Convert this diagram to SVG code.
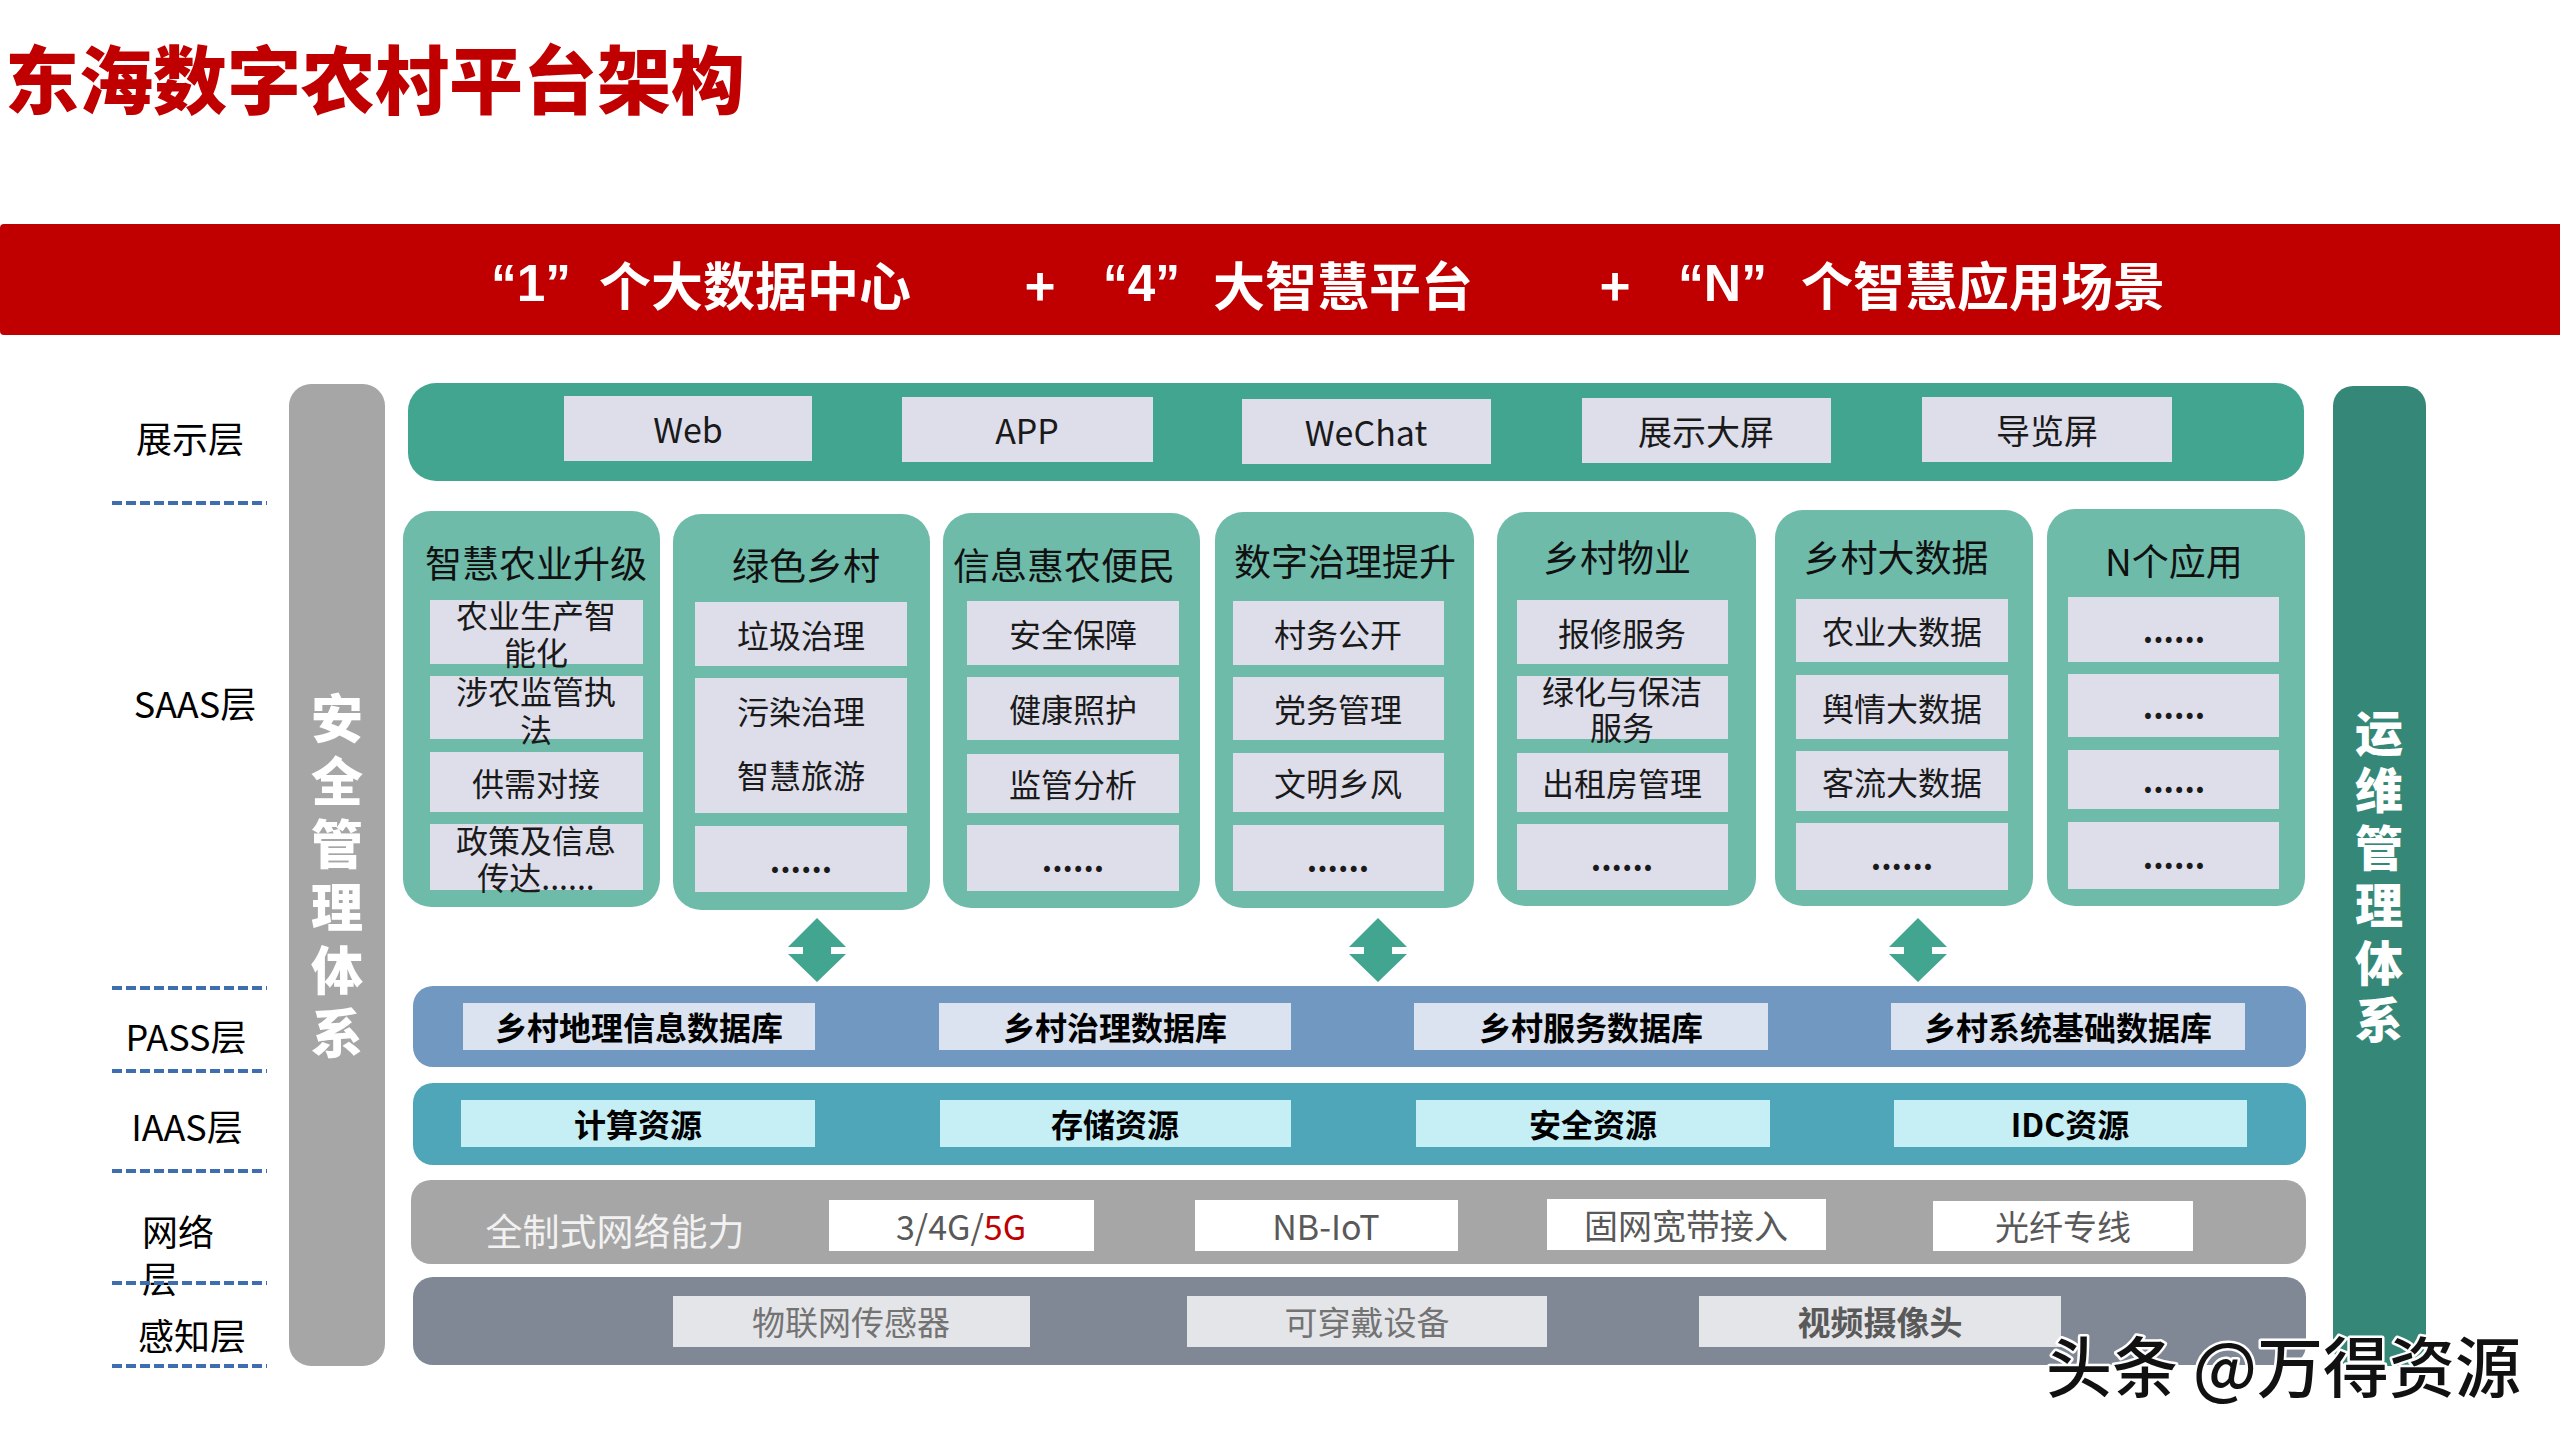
<svg xmlns="http://www.w3.org/2000/svg" width="2560" height="1440" viewBox="0 0 2560 1440">
<defs>
<style>
text { font-family: "Noto Sans CJK SC", "Noto Sans", sans-serif; dominant-baseline: central; }
.c { text-anchor: middle; }
.lbl { font-size: 36px; fill: #000; }
.dash { stroke: #3E6EAF; stroke-width: 4; stroke-dasharray: 10 4; fill: none; }
.vt { font-size: 52px; font-weight: 900; fill: #fff; text-anchor: middle; }
.lav { fill: #DEDEEB; }
.col { fill: #6FBBAA; }
.ttl { font-size: 37px; fill: #111; text-anchor: middle; }
.it { font-size: 32px; fill: #1a1a1a; text-anchor: middle; }
.dots { font-size: 32px; font-weight: bold; fill: #1a1a1a; text-anchor: middle; }
.top { font-size: 34px; fill: #1a1a1a; text-anchor: middle; }
.db { font-size: 32px; font-weight: bold; fill: #000; text-anchor: middle; }
.nw { font-size: 34px; fill: #595959; text-anchor: middle; }
.sn { font-size: 33px; fill: #737373; text-anchor: middle; }
.arr { fill: #41A58F; }
.ban { font-size: 52px; font-weight: bold; fill: #fff; }
.q { font-family: "Liberation Sans", Arial, sans-serif; font-size: 52px; font-weight: bold; fill: #fff; }
</style>
</defs>
<rect width="2560" height="1440" fill="#fff"/>

<g id="title">
<text x="5" y="75" style="font-size:74px;font-weight:900;fill:#C00000">东海数字农村平台架构</text>
</g>

<g id="banner">
<rect x="0" y="224" width="2570" height="111" rx="4" fill="#C00000"/>
<text class="q" x="491" y="283" textLength="80" lengthAdjust="spacingAndGlyphs">“1”</text>
<text class="ban" x="599" y="283">个大数据中心</text>
<text class="ban c" x="1040" y="283">+</text>
<text class="q" x="1103" y="283" textLength="77" lengthAdjust="spacingAndGlyphs">“4”</text>
<text class="ban" x="1213" y="283">大智慧平台</text>
<text class="ban c" x="1615" y="283">+</text>
<text class="q" x="1678" y="283" textLength="89" lengthAdjust="spacingAndGlyphs">“N”</text>
<text class="ban" x="1801" y="283">个智慧应用场景</text>
</g>

<g id="layer-labels">
<text class="lbl c" x="190" y="437">展示层</text>
<text class="lbl c" x="195" y="702">SAAS层</text>
<text class="lbl c" x="186" y="1035">PASS层</text>
<text class="lbl c" x="187" y="1125">IAAS层</text>
<text class="lbl" x="142" y="1230">网络<tspan x="142" dy="47">层</tspan></text>
<text class="lbl c" x="192" y="1334">感知层</text>
<line class="dash" x1="112" y1="503" x2="267" y2="503"/>
<line class="dash" x1="112" y1="988" x2="267" y2="988"/>
<line class="dash" x1="112" y1="1071" x2="267" y2="1071"/>
<line class="dash" x1="112" y1="1171" x2="267" y2="1171"/>
<line class="dash" x1="112" y1="1283" x2="267" y2="1283"/>
<line class="dash" x1="112" y1="1366" x2="267" y2="1366"/>
</g>

<g id="security-bar">
<rect x="289" y="384" width="96" height="982" rx="22" fill="#A6A6A6"/>
<text class="vt" x="337" y="715">安</text>
<text class="vt" x="337" y="778">全</text>
<text class="vt" x="337" y="841">管</text>
<text class="vt" x="337" y="904">理</text>
<text class="vt" x="337" y="967">体</text>
<text class="vt" x="337" y="1030">系</text>
</g>

<g id="ops-bar">
<rect x="2333" y="386" width="93" height="980" rx="20" fill="#358878"/>
<text class="vt" style="font-size:48px" x="2379" y="730">运</text>
<text class="vt" style="font-size:48px" x="2379" y="787">维</text>
<text class="vt" style="font-size:48px" x="2379" y="845">管</text>
<text class="vt" style="font-size:48px" x="2379" y="902">理</text>
<text class="vt" style="font-size:48px" x="2379" y="960">体</text>
<text class="vt" style="font-size:48px" x="2379" y="1017">系</text>
</g>

<g id="display-layer">
<rect x="408" y="383" width="1896" height="98" rx="28" fill="#41A58F"/>
<rect class="lav" x="564" y="396" width="248" height="65"/>
<text class="top" x="688" y="428">Web</text>
<rect class="lav" x="902" y="397" width="251" height="65"/>
<text class="top" x="1027" y="429">APP</text>
<rect class="lav" x="1242" y="399" width="249" height="65"/>
<text class="top" x="1366" y="431">WeChat</text>
<rect class="lav" x="1582" y="398" width="249" height="65"/>
<text class="top" x="1706" y="430">展示大屏</text>
<rect class="lav" x="1922" y="397" width="250" height="65"/>
<text class="top" x="2047" y="429">导览屏</text>
</g>

<g id="col-smart-agri">
<rect class="col" x="403" y="511" width="257" height="396" rx="28"/>
<text class="ttl" x="536" y="562">智慧农业升级</text>
<rect class="lav" x="430" y="600" width="213" height="64"/>
<text class="it" x="536" y="614">农业生产智<tspan x="536" dy="37">能化</tspan></text>
<rect class="lav" x="430" y="676" width="213" height="63"/>
<text class="it" x="536" y="690">涉农监管执<tspan x="536" dy="38">法</tspan></text>
<rect class="lav" x="430" y="752" width="213" height="60"/>
<text class="it" x="536" y="782">供需对接</text>
<rect class="lav" x="430" y="824" width="213" height="66"/>
<text class="it" x="536" y="839">政策及信息<tspan x="536" dy="37">传达......</tspan></text>
</g>

<g id="col-green-village">
<rect class="col" x="673" y="514" width="257" height="396" rx="28"/>
<text class="ttl" x="806" y="564">绿色乡村</text>
<rect class="lav" x="695" y="602" width="212" height="64"/>
<text class="it" x="801" y="634">垃圾治理</text>
<rect class="lav" x="695" y="678" width="212" height="135"/>
<text class="it" x="801" y="710">污染治理</text>
<text class="it" x="801" y="774">智慧旅游</text>
<rect class="lav" x="695" y="826" width="212" height="66"/>
<text class="dots" x="801" y="859">......</text>
</g>

<g id="col-info">
<rect class="col" x="943" y="513" width="257" height="395" rx="28"/>
<text class="ttl" x="1064" y="564">信息惠农便民</text>
<rect class="lav" x="967" y="601" width="212" height="64"/>
<text class="it" x="1073" y="633">安全保障</text>
<rect class="lav" x="967" y="677" width="212" height="63"/>
<text class="it" x="1073" y="708">健康照护</text>
<rect class="lav" x="967" y="754" width="212" height="59"/>
<text class="it" x="1073" y="783">监管分析</text>
<rect class="lav" x="967" y="825" width="212" height="66"/>
<text class="dots" x="1073" y="858">......</text>
</g>

<g id="col-governance">
<rect class="col" x="1215" y="512" width="259" height="396" rx="28"/>
<text class="ttl" x="1345" y="560">数字治理提升</text>
<rect class="lav" x="1233" y="601" width="211" height="64"/>
<text class="it" x="1338" y="633">村务公开</text>
<rect class="lav" x="1233" y="677" width="211" height="63"/>
<text class="it" x="1338" y="708">党务管理</text>
<rect class="lav" x="1233" y="753" width="211" height="59"/>
<text class="it" x="1338" y="782">文明乡风</text>
<rect class="lav" x="1233" y="825" width="211" height="66"/>
<text class="dots" x="1338" y="858">......</text>
</g>

<g id="col-property">
<rect class="col" x="1497" y="512" width="259" height="394" rx="28"/>
<text class="ttl" x="1617" y="556">乡村物业</text>
<rect class="lav" x="1517" y="600" width="211" height="64"/>
<text class="it" x="1622" y="632">报修服务</text>
<rect class="lav" x="1517" y="676" width="211" height="63"/>
<text class="it" x="1622" y="690">绿化与保洁<tspan x="1622" dy="36">服务</tspan></text>
<rect class="lav" x="1517" y="753" width="211" height="59"/>
<text class="it" x="1622" y="782">出租房管理</text>
<rect class="lav" x="1517" y="824" width="211" height="66"/>
<text class="dots" x="1622" y="857">......</text>
</g>

<g id="col-bigdata">
<rect class="col" x="1775" y="510" width="258" height="396" rx="28"/>
<text class="ttl" x="1896" y="556">乡村大数据</text>
<rect class="lav" x="1796" y="599" width="212" height="63"/>
<text class="it" x="1902" y="630">农业大数据</text>
<rect class="lav" x="1796" y="675" width="212" height="64"/>
<text class="it" x="1902" y="707">舆情大数据</text>
<rect class="lav" x="1796" y="751" width="212" height="60"/>
<text class="it" x="1902" y="781">客流大数据</text>
<rect class="lav" x="1796" y="823" width="212" height="67"/>
<text class="dots" x="1902" y="856">......</text>
</g>

<g id="col-n-apps">
<rect class="col" x="2047" y="509" width="258" height="397" rx="28"/>
<text class="ttl" x="2174" y="560">N个应用</text>
<rect class="lav" x="2068" y="597" width="211" height="65"/>
<text class="dots" x="2174" y="629">......</text>
<rect class="lav" x="2068" y="674" width="211" height="63"/>
<text class="dots" x="2174" y="705">......</text>
<rect class="lav" x="2068" y="750" width="211" height="59"/>
<text class="dots" x="2174" y="779">......</text>
<rect class="lav" x="2068" y="822" width="211" height="67"/>
<text class="dots" x="2174" y="855">......</text>
</g>

<g id="connectors">
<path class="arr" d="M817,918 L846,947 L831,947 L831,954 L846,954 L817,982 L788,954 L803,954 L803,947 L788,947 Z"/>
<path class="arr" d="M1378,918 L1407,947 L1392,947 L1392,954 L1407,954 L1378,982 L1349,954 L1364,954 L1364,947 L1349,947 Z"/>
<path class="arr" d="M1918,918 L1947,947 L1932,947 L1932,954 L1947,954 L1918,982 L1889,954 L1904,954 L1904,947 L1889,947 Z"/>
</g>

<g id="pass-layer">
<rect x="413" y="986" width="1893" height="81" rx="20" fill="#7098C0"/>
<rect x="463" y="1003" width="352" height="47" fill="#DAE3EF"/>
<text class="db" x="639" y="1026">乡村地理信息数据库</text>
<rect x="939" y="1003" width="352" height="47" fill="#DAE3EF"/>
<text class="db" x="1115" y="1026">乡村治理数据库</text>
<rect x="1414" y="1003" width="354" height="47" fill="#DAE3EF"/>
<text class="db" x="1591" y="1026">乡村服务数据库</text>
<rect x="1891" y="1003" width="354" height="47" fill="#DAE3EF"/>
<text class="db" x="2068" y="1026">乡村系统基础数据库</text>
</g>

<g id="iaas-layer">
<rect x="413" y="1083" width="1893" height="82" rx="20" fill="#4FA6B8"/>
<rect x="461" y="1100" width="354" height="47" fill="#C5EEF5"/>
<text class="db" x="638" y="1123">计算资源</text>
<rect x="940" y="1100" width="351" height="47" fill="#C5EEF5"/>
<text class="db" x="1115" y="1123">存储资源</text>
<rect x="1416" y="1100" width="354" height="47" fill="#C5EEF5"/>
<text class="db" x="1593" y="1123">安全资源</text>
<rect x="1894" y="1100" width="353" height="47" fill="#C5EEF5"/>
<text class="db" x="2070" y="1123">IDC资源</text>
</g>

<g id="network-layer">
<rect x="411" y="1180" width="1895" height="84" rx="20" fill="#A6A6A6"/>
<text x="615" y="1230" class="c" style="font-size:37px;fill:#F2F2F2">全制式网络能力</text>
<rect x="829" y="1200" width="265" height="51" fill="#fff"/>
<text class="nw" x="961" y="1225">3/4G/<tspan fill="#C00000">5G</tspan></text>
<rect x="1195" y="1200" width="263" height="51" fill="#fff"/>
<text class="nw" x="1326" y="1225">NB-IoT</text>
<rect x="1547" y="1199" width="279" height="51" fill="#fff"/>
<text class="nw" x="1686" y="1224">固网宽带接入</text>
<rect x="1933" y="1201" width="260" height="50" fill="#fff"/>
<text class="nw" x="2063" y="1225">光纤专线</text>
</g>

<g id="sensing-layer">
<rect x="413" y="1277" width="1893" height="88" rx="20" fill="#808896"/>
<rect x="673" y="1296" width="357" height="51" fill="#E4E5E9"/>
<text class="sn" x="851" y="1321">物联网传感器</text>
<rect x="1187" y="1296" width="360" height="51" fill="#E4E5E9"/>
<text class="sn" x="1367" y="1321">可穿戴设备</text>
<rect x="1699" y="1296" width="362" height="51" fill="#E4E5E9"/>
<text class="sn" x="1880" y="1321" style="font-weight:bold;fill:#595959">视频摄像头</text>
</g>

<g id="watermark">
<text x="2046" y="1363" style="font-size:66px;font-weight:500;fill:#111;stroke:#fff;stroke-width:5;paint-order:stroke;stroke-linejoin:round">头条 @万得资源</text>
</g>
</svg>
